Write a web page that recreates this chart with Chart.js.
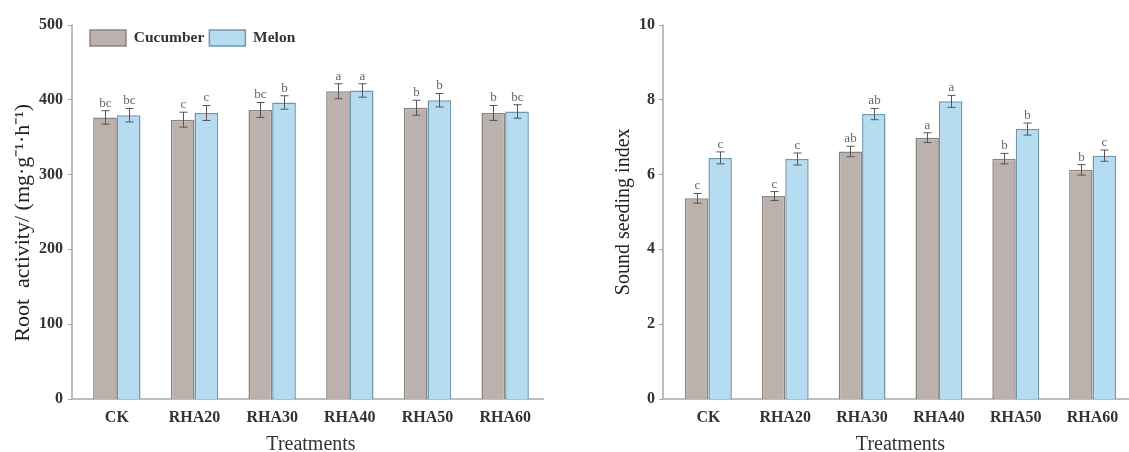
<!DOCTYPE html>
<html>
<head>
<meta charset="utf-8">
<script src="https://cdn.jsdelivr.net/npm/chart.js@4.4.0/dist/chart.umd.min.js"></script>
<style>
  html, body { margin: 0; padding: 0; background: #fff; overflow: hidden; }
  body { width: 1129px; height: 452px; position: relative; }
  .panel { position: absolute; top: 0; height: 456px; }
  #leftBox { left: 0; width: 560px; }
  #rightBox { left: 560px; width: 575px; }
</style>
</head>
<body>
<div class="panel" id="leftBox"><canvas id="rootChart"></canvas></div>
<div class="panel" id="rightBox"><canvas id="seedChart"></canvas></div>
<script>
// ========================================
// Data
// ========================================
const treatments = ['CK', 'RHA20', 'RHA30', 'RHA40', 'RHA50', 'RHA60'];

// Root activity (mg·g-1·h-1)
const rootCucumber = [376, 373, 386, 411, 389, 382];
const rootMelon = [379, 382, 396, 412, 399, 384];
const rootCucumberErr = [9, 10, 10, 10, 10, 10];
const rootMelonErr = [9, 10, 9, 9, 9, 9];
const rootCucumberSig = ['bc', 'c', 'bc', 'a', 'b', 'b'];
const rootMelonSig = ['bc', 'c', 'b', 'a', 'b', 'bc'];

// Sound seeding index
const seedCucumber = [5.36, 5.42, 6.61, 6.98, 6.42, 6.12];
const seedMelon = [6.44, 6.41, 7.61, 7.95, 7.21, 6.50];
const seedCucumberErr = [0.13, 0.12, 0.14, 0.13, 0.14, 0.14];
const seedMelonErr = [0.16, 0.16, 0.15, 0.16, 0.16, 0.15];
const seedCucumberSig = ['c', 'c', 'ab', 'a', 'b', 'b'];
const seedMelonSig = ['c', 'c', 'ab', 'a', 'b', 'c'];

const SERIF = '"Liberation Serif", "Times New Roman", serif';
const AXIS_GRAY = '#a8a8a8';

// ========================================
// Plugins: axis lines, error bars, letters
// ========================================
const axisLines = {
    id: 'axisLines',
    beforeDatasetsDraw(chart, args, opts) {
        const { ctx, chartArea: a, scales: { y } } = chart;
        const x0 = a.left - opts.gap;
        ctx.save();
        ctx.strokeStyle = AXIS_GRAY;
        ctx.lineWidth = 1.5;
        ctx.beginPath();
        ctx.moveTo(x0, a.top);
        ctx.lineTo(x0, a.bottom);
        ctx.lineTo(a.right, a.bottom);
        ctx.stroke();
        ctx.lineWidth = 1;
        y.ticks.forEach(t => {
            const py = Math.round(y.getPixelForValue(t.value)) + 0.5;
            ctx.beginPath();
            ctx.moveTo(x0 - 4, py);
            ctx.lineTo(x0, py);
            ctx.stroke();
        });
        ctx.restore();
    }
};

const errorBars = {
    id: 'errorBars',
    afterDatasetsDraw(chart) {
        const { ctx, scales: { y } } = chart;
        ctx.save();
        chart.data.datasets.forEach((ds, i) => {
            const meta = chart.getDatasetMeta(i);
            meta.data.forEach((bar, j) => {
                const v = ds.data[j], e = ds.errors[j];
                const top = y.getPixelForValue(v + e);
                const bot = y.getPixelForValue(v - e);
                const x = Math.round(bar.x) + 0.5;
                ctx.strokeStyle = '#555';
                ctx.lineWidth = 1;
                ctx.beginPath();
                ctx.moveTo(x, top); ctx.lineTo(x, bot);
                ctx.moveTo(x - 4, top); ctx.lineTo(x + 4, top);
                ctx.moveTo(x - 4, bot); ctx.lineTo(x + 4, bot);
                ctx.stroke();
                ctx.fillStyle = '#666';
                ctx.font = '13px ' + SERIF;
                ctx.textAlign = 'center';
                ctx.textBaseline = 'bottom';
                ctx.fillText(ds.sig[j], x, top - 1);
            });
        });
        ctx.restore();
    }
};

// legend sits on top (one row), then the whole box is moved inside the plot, top-left
const legendSpot = {
    id: 'legendSpot',
    afterLayout(chart) {
        const lg = chart.legend;
        if (lg && chart.options.plugins.legend.display) {
            const dx = chart.chartArea.left + 7 - lg.left;
            const dy = chart.chartArea.top + 0.5 - lg.top;
            lg.left += dx; lg.right += dx;
            lg.top += dy; lg.bottom += dy;
        }
    }
};

// ========================================
// Chart builder
// ========================================
function makeChart(id, cfg) {
    return new Chart(document.getElementById(id), {
        type: 'bar',
        data: {
            labels: treatments,
            datasets: [
                {
                    label: 'Cucumber',
                    data: cfg.cucumber,
                    errors: cfg.cucumberErr,
                    sig: cfg.cucumberSig,
                    backgroundColor: '#bcb2ad',
                    borderColor: '#8a8380',
                    borderWidth: 1.5,
                    categoryPercentage: 0.61,
                    barPercentage: 1
                },
                {
                    label: 'Melon',
                    data: cfg.melon,
                    errors: cfg.melonErr,
                    sig: cfg.melonSig,
                    backgroundColor: '#b6dcf2',
                    borderColor: '#7096ac',
                    borderWidth: 1.5,
                    categoryPercentage: 0.61,
                    barPercentage: 1
                }
            ]
        },
        options: {
            responsive: true,
            maintainAspectRatio: false,
            animation: false,
            // legend (21 + 10 px tall) is taken back from the top padding
            layout: { padding: { top: cfg.legend ? 21.5 - 31 : 21.5, right: cfg.padRight, left: 0, bottom: 0 } },
            plugins: {
                legend: {
                    display: cfg.legend,
                    position: 'top',
                    align: 'start',
                    labels: {
                        boxWidth: 36,
                        boxHeight: 16,
                        padding: 5,
                        color: '#333',
                        font: { family: SERIF, size: 15.5, weight: 'bold' }
                    }
                },
                tooltip: { enabled: false },
                axisLines: { gap: cfg.gap }
            },
            scales: {
                x: {
                    grid: { display: false, drawTicks: false },
                    border: { display: false },
                    ticks: { color: '#333', padding: 9, font: { family: SERIF, size: 16, weight: 'bold' } },
                    title: {
                        display: true,
                        text: 'Treatments',
                        color: '#333',
                        padding: { top: 0, bottom: 1 },
                        font: { family: SERIF, size: 20, lineHeight: 1 }
                    },
                    afterFit: s => { s.height = 57; }
                },
                y: {
                    min: 0,
                    max: cfg.max,
                    grid: { display: false, drawTicks: false },
                    border: { display: false },
                    ticks: { stepSize: cfg.step, color: '#333', padding: 15, font: { family: SERIF, size: 16, weight: 'bold' } },
                    title: {
                        display: true,
                        text: cfg.yTitle,
                        color: '#222',
                        padding: { top: cfg.titlePad, bottom: 0 },
                        font: { family: SERIF, size: cfg.titleSize, lineHeight: 1 }
                    },
                    afterFit: s => { s.width = cfg.axisWidth; }
                }
            }
        },
        plugins: [axisLines, errorBars, legendSpot]
    });
}

document.addEventListener('DOMContentLoaded', () => {
    makeChart('rootChart', {
        cucumber: rootCucumber, cucumberErr: rootCucumberErr, cucumberSig: rootCucumberSig,
        melon: rootMelon, melonErr: rootMelonErr, melonSig: rootMelonSig,
        max: 500, step: 100,
        // trailing spaces push the centred title a little lower, as in the original
        yTitle: 'Root  activity/ (mg·g⁻¹·h⁻¹)    ',
        legend: true, axisWidth: 78, padRight: 16, gap: 6, titlePad: 12, titleSize: 22
    });
    makeChart('seedChart', {
        cucumber: seedCucumber, cucumberErr: seedCucumberErr, cucumberSig: seedCucumberSig,
        melon: seedMelon, melonErr: seedMelonErr, melonSig: seedMelonSig,
        max: 10, step: 2,
        yTitle: 'Sound seeding index',
        legend: false, axisWidth: 110, padRight: 4, gap: 7, titlePad: 54, titleSize: 20
    });
});
</script>
</body>
</html>
